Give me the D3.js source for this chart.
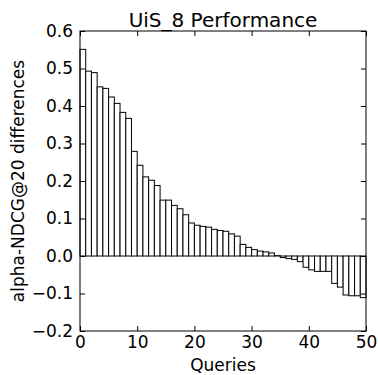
<!DOCTYPE html>
<html><head><meta charset="utf-8">
<script src="https://cdn.jsdelivr.net/npm/d3@7"></script>
<style>body{margin:0;background:#fff}svg{display:block}text{font-family:"DejaVu Sans",sans-serif}</style>
</head><body><svg id="c" width="378" height="375"></svg>
<script>
const title = "UiS_8 Performance";
const xLabel = "Queries";
const yLabel = "alpha-NDCG@20 differences";
const values = [0.551,0.493,0.489,0.451,0.447,0.424,0.407,0.383,0.367,0.279,
0.242,0.211,0.202,0.188,0.149,0.149,0.135,0.126,0.110,0.088,
0.082,0.079,0.077,0.071,0.068,0.066,0.059,0.053,0.031,0.023,
0.017,0.013,0.011,0.008,0.001,-0.004,-0.007,-0.009,-0.015,-0.030,
-0.037,-0.041,-0.041,-0.041,-0.073,-0.083,-0.104,-0.106,-0.106,-0.111];
const xTicks = [0,10,20,30,40,50];
const yTicks = [-0.2,-0.1,0.0,0.1,0.2,0.3,0.4,0.5,0.6];

const L=80,R=366,T=31,B=331;
const svg=d3.select("#c");
const x=d3.scaleLinear().domain([0,50]).range([L,R]);
const y=d3.scaleLinear().domain([-0.2,0.6]).range([B,T]);

svg.append("g").selectAll("rect").data(values).join("rect")
 .attr("x",(d,i)=>x(i)).attr("width",(d,i)=>x(i+1)-x(i))
 .attr("y",d=>y(Math.max(0,d))).attr("height",d=>Math.abs(y(d)-y(0)))
 .attr("fill","#fff").attr("stroke","#000").attr("stroke-width",1);

const fmt=d=>d<0?"\u2212"+Math.abs(d).toFixed(1):d.toFixed(1);
const tl=5;
const gx=svg.append("g").attr("transform",`translate(0,${B})`)
 .call(d3.axisBottom(x).tickValues(xTicks).tickSizeInner(-tl).tickSizeOuter(0).tickPadding(5));
const gxt=svg.append("g").attr("transform",`translate(0,${T})`)
 .call(d3.axisTop(x).tickValues(xTicks).tickSizeInner(-tl).tickSizeOuter(0).tickFormat(""));
const gy=svg.append("g").attr("transform",`translate(${L},0)`)
 .call(d3.axisLeft(y).tickValues(yTicks).tickFormat(fmt).tickSizeInner(-tl).tickSizeOuter(0).tickPadding(7));
const gyr=svg.append("g").attr("transform",`translate(${R},0)`)
 .call(d3.axisRight(y).tickValues(yTicks).tickSizeInner(-tl).tickSizeOuter(0).tickFormat(""));
[gx,gxt,gy,gyr].forEach(g=>{g.select(".domain").remove();g.selectAll("line").attr("stroke","#000");
 g.selectAll("text").attr("font-family","DejaVu Sans").attr("font-size",17).attr("fill","#000");});

svg.append("rect").attr("x",L).attr("y",T).attr("width",R-L).attr("height",B-T)
 .attr("fill","none").attr("stroke","#000").attr("stroke-width",1);

svg.append("text").attr("x",(L+R)/2).attr("y",27).attr("text-anchor","middle")
 .attr("font-size",20).text(title);
svg.append("text").attr("x",(L+R)/2).attr("y",371).attr("text-anchor","middle")
 .attr("font-size",17).text(xLabel);
svg.append("text").attr("transform",`translate(24,${(T+B)/2}) rotate(-90)`).attr("text-anchor","middle")
 .attr("font-size",17).text(yLabel);
</script></body></html>
